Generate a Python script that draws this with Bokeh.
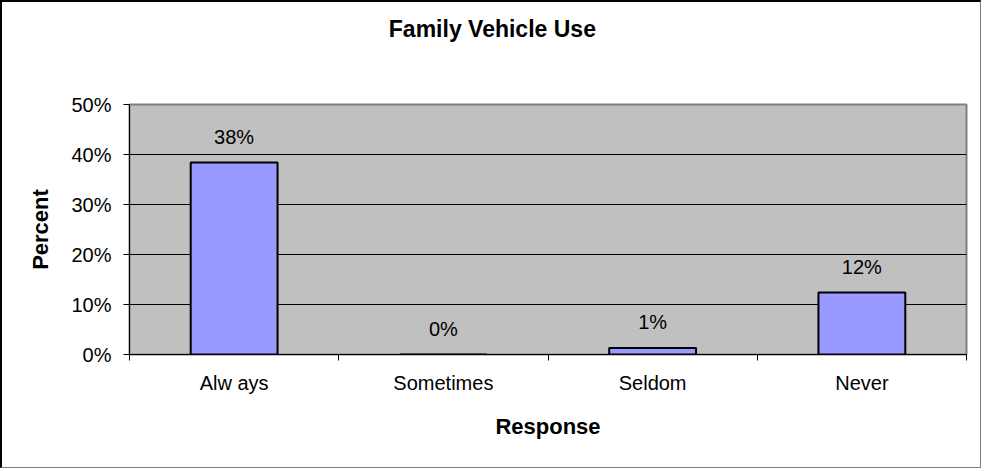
from bokeh.plotting import figure
from bokeh.models import (ColumnDataSource, FixedTicker, Range1d, Title,
                          PrintfTickFormatter, LabelSet)
from bokeh.core.properties import value
from bokeh.embed import file_html
from bokeh.resources import INLINE

categories = ["Alw ays", "Sometimes", "Seldom", "Never"]
values = [38.4, 0.0, 1.3, 12.4]
y_ticks = [0, 10, 20, 30, 40, 50]
title_text = "Family Vehicle Use"

FONT = "Liberation Sans"

xs = list(range(len(categories)))
labels = [f"{round(v):d}%" for v in values]
src = ColumnDataSource(dict(x=xs, top=values, label=labels))

W, H = 981, 468
ML, MR, MT, MB = 127, 17, 102, 116
p = figure(width=W, height=H, output_backend="svg", toolbar_location=None,
           x_range=Range1d(-0.5, len(categories) - 0.5), y_range=Range1d(0, 50),
           min_border_left=ML, min_border_right=MR, min_border_top=MT,
           min_border_bottom=MB)
p.title = None
p.styles = {"border-left": "2px solid #000000", "border-top": "2px solid #000000",
            "border-right": "1px solid #808080", "border-bottom": "1px solid #808080"}

# title: real text panel, plus a spacer panel between it and the frame
TITLE_PX = 23
title_w = 9.06 * TITLE_PX
t = Title(text=title_text, align="left", offset=W / 2 - title_w / 2 - ML,
          vertical_align="bottom", standoff=0, text_font=FONT,
          text_font_size=f"{TITLE_PX}px", text_font_style="bold", text_color="black")
spacer = Title(text=" ", standoff=60, text_font_size="1px")
p.add_layout(spacer, "above")
p.add_layout(t, "above")

p.background_fill_color = "#C0C0C0"
p.border_fill_color = "white"
p.outline_line_color = "#808080"
p.outline_line_width = 2

p.vbar(x="x", top="top", width=0.415, source=src, fill_color="#9999FF",
       line_color="black", line_width=2)

p.add_layout(LabelSet(x="x", y="top", text="label", source=src, y_offset=19,
                      text_align="center", text_baseline="alphabetic",
                      text_font=value(FONT), text_font_size="20px",
                      text_color="black"))

# grid
p.xgrid.grid_line_color = None
p.ygrid.grid_line_color = "#000000"
p.ygrid.grid_line_width = 1
p.ygrid.ticker = FixedTicker(ticks=y_ticks)

# x axis
xa = p.xaxis[0]
xa.ticker = FixedTicker(ticks=xs, minor_ticks=[i - 0.5 for i in range(len(categories) + 1)])
xa.major_label_overrides = {i: c for i, c in enumerate(categories)}
xa.major_tick_line_color = None
xa.major_tick_out = 6
xa.major_tick_in = 0
xa.minor_tick_line_color = "black"
xa.minor_tick_out = 6
xa.minor_tick_in = 0
xa.major_label_standoff = 11
xa.axis_line_color = "black"
xa.major_label_text_font = FONT
xa.major_label_text_font_size = "20px"
xa.major_label_text_color = "black"
xa.axis_label = "Response"
xa.axis_label_text_font = FONT
xa.axis_label_text_font_size = "22px"
xa.axis_label_text_font_style = "bold"
xa.axis_label_text_color = "black"
xa.axis_label_standoff = 17

# y axis
ya = p.yaxis[0]
ya.ticker = FixedTicker(ticks=y_ticks)
ya.formatter = PrintfTickFormatter(format="%d%%")
ya.minor_tick_line_color = None
ya.major_tick_line_color = "black"
ya.major_tick_out = 6
ya.major_tick_in = 0
ya.major_label_standoff = 12
ya.axis_line_color = "black"
ya.major_label_text_font = FONT
ya.major_label_text_font_size = "20px"
ya.major_label_text_color = "black"
ya.axis_label = "Percent"
ya.axis_label_text_font = FONT
ya.axis_label_text_font_size = "22px"
ya.axis_label_text_font_style = "bold"
ya.axis_label_text_color = "black"
ya.axis_label_standoff = 15

open("out.html", "w").write(file_html(p, INLINE))
